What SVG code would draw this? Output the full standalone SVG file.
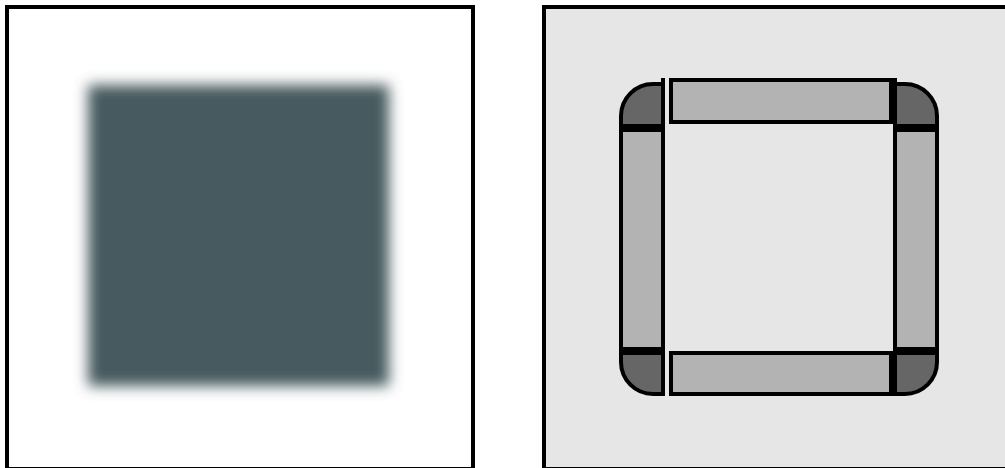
<svg xmlns="http://www.w3.org/2000/svg" width="1005" height="468" viewBox="0 0 1005 468">
  <defs>
    <filter id="blur" x="-20%" y="-20%" width="140%" height="140%">
      <feGaussianBlur stdDeviation="7"/>
    </filter>
    <style>
      .panel { stroke: #000; stroke-width: 4; }
      .corner { fill: #666666; stroke: #000; stroke-width: 4; }
      .bar { fill: #b3b3b3; stroke: #000; stroke-width: 4; }
      .sep { stroke: #000; stroke-width: 4; fill: none; }
    </style>
  </defs>
  <rect width="1005" height="468" fill="#ffffff"/>

  <g id="left-panel">
    <rect class="panel" x="7" y="7" width="466" height="462" fill="#ffffff"/>
    <rect x="88" y="85" width="301" height="301" fill="#475a5e" filter="url(#blur)"/>
  </g>

  <g id="right-panel">
    <rect class="panel" x="544" y="7" width="470" height="462" fill="#e6e6e6"/>
  </g>

  <g id="corner-tl">
    <path class="corner" d="M663,84 H653 A32,32 0 0 0 621,116 V126 H663 Z"/>
  </g>
  <g id="corner-tr">
    <path class="corner" d="M895,84 H905 A32,32 0 0 1 937,116 V126 H895 Z"/>
  </g>
  <g id="corner-bl">
    <path class="corner" d="M663,394 H653 A32,32 0 0 1 621,362 V353 H663 Z"/>
  </g>
  <g id="corner-br">
    <path class="corner" d="M895,394 H905 A32,32 0 0 0 937,362 V353 H895 Z"/>
  </g>

  <g id="bar-top">
    <rect class="bar" x="671" y="80" width="220" height="42"/>
  </g>
  <g id="bar-bottom">
    <rect class="bar" x="671" y="353" width="220" height="41"/>
  </g>
  <g id="bar-left">
    <rect class="bar" x="621" y="130" width="42" height="219"/>
  </g>
  <g id="bar-right">
    <rect class="bar" x="895" y="130" width="42" height="219"/>
  </g>

  <g id="connectors">
    <line class="sep" x1="663" y1="78" x2="663" y2="396"/>
    <line class="sep" x1="895" y1="78" x2="895" y2="396"/>
  </g>
</svg>
